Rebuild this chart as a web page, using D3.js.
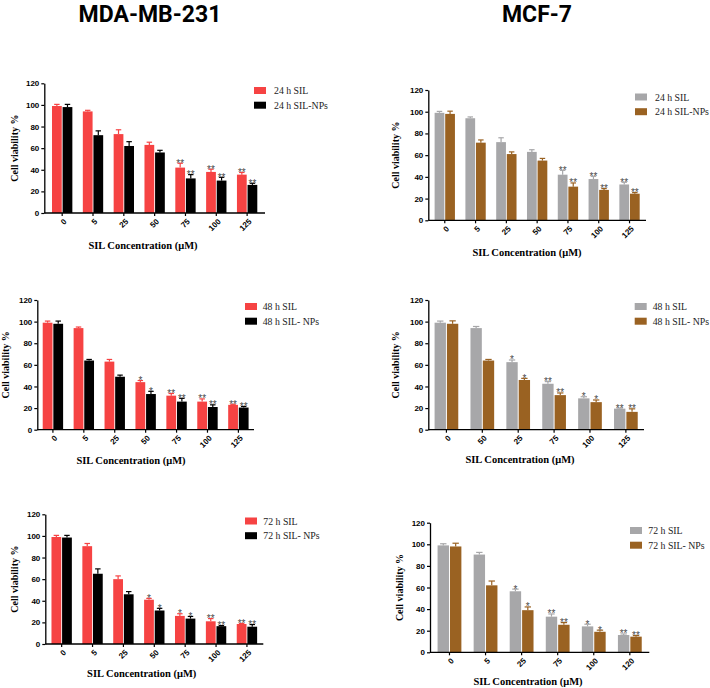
<!DOCTYPE html>
<html>
<head>
<meta charset="utf-8">
<script src="https://cdn.jsdelivr.net/npm/d3@7/dist/d3.min.js"></script>
<style>
  html, body { margin: 0; padding: 0; background: #fff; }
  svg { display: block; }
</style>
</head>
<body>
<svg id="chart" width="710" height="688"></svg>
<script>
// ---------------- DATA ----------------
const cellLines = ["MDA-MB-231", "MCF-7"];
const yTicks = [0, 20, 40, 60, 80, 100, 120];

// Panel 1: MDA-MB-231, 24 h
const p1Cats = ["0", "5", "25", "50", "75", "100", "125"];
const p1Series = ["24 h SIL", "24 h SIL-NPs"];
const p1Sil = [99, 94, 73, 63, 42, 38, 35.5];
const p1SilErr = [1.5, 1, 4, 2.5, 4, 2.5, 2];
const p1Np = [98, 72, 62, 56, 32, 30, 26];
const p1NpErr = [2.5, 4, 4, 2, 3.5, 3, 1.5];
const p1SilSig = ["", "", "", "", "**", "**", "**"];
const p1NpSig = ["", "", "", "", "**", "**", "**"];

// Panel 2: MCF-7, 24 h
const p2Cats = ["0", "5", "25", "50", "75", "100", "125"];
const p2Series = ["24 h SIL", "24 h SIL-NPs"];
const p2Sil = [99, 94, 72, 63, 42, 38, 33];
const p2SilErr = [1.3, 1.2, 4, 2, 4, 2.5, 2];
const p2Np = [98, 71.5, 61, 55, 31, 28, 24.5];
const p2NpErr = [2.5, 2.5, 2, 2, 3.4, 1.2, 1];
const p2SilSig = ["", "", "", "", "**", "**", "**"];
const p2NpSig = ["", "", "", "", "**", "**", "**"];

// Panel 3: MDA-MB-231, 48 h
const p3Cats = ["0", "5", "25", "50", "75", "100", "125"];
const p3Series = ["48 h SIL", "48 h SIL- NPs"];
const p3Sil = [99, 94, 63, 44, 31.5, 26, 23];
const p3SilErr = [1.5, 1, 2, 1.5, 2, 2.5, 0.5];
const p3Np = [98, 64, 49, 33, 26, 21, 20.5];
const p3NpErr = [2.5, 1, 1.5, 2.5, 3, 2, 1];
const p3SilSig = ["", "", "", "*", "**", "**", "**"];
const p3NpSig = ["", "", "", "*", "**", "**", "**"];

// Panel 4: MCF-7, 48 h
const p4Cats = ["0", "50", "25", "75", "100", "125"];
const p4Series = ["48 h SIL", "48 h SIL- NPs"];
const p4Sil = [99, 94, 62.5, 42.5, 29, 19.5];
const p4SilErr = [1.5, 1.5, 2, 2, 1.5, 0.5];
const p4Np = [98, 64, 46, 32, 25.5, 16.5];
const p4NpErr = [2.7, 1, 1.5, 2, 2, 2.8];
const p4SilSig = ["", "", "*", "**", "*", "**"];
const p4NpSig = ["", "", "*", "**", "*", "**"];

// Panel 5: MDA-MB-231, 72 h
const p5Cats = ["0", "5", "25", "50", "75", "100", "125"];
const p5Series = ["72 h SIL", "72 h SIL- NPs"];
const p5Sil = [99, 90.5, 60, 41, 26, 21, 18.5];
const p5SilErr = [1.5, 2.5, 3, 1.2, 2, 2.5, 0.5];
const p5Np = [98.5, 65, 46, 31, 23.5, 16.5, 16];
const p5NpErr = [2, 4.5, 2.5, 2, 2, 0.5, 2];
const p5SilSig = ["", "", "", "*", "*", "**", "**"];
const p5NpSig = ["", "", "", "*", "*", "**", "**"];

// Panel 6: MCF-7, 72 h
const p6Cats = ["0", "5", "25", "75", "100", "120"];
const p6Series = ["72 h SIL", "72 h SIL- NPs"];
const p6Sil = [99, 90.5, 56.5, 33, 24, 16];
const p6SilErr = [1.5, 2, 2, 2.5, 2, 1];
const p6Np = [98, 62, 39, 25.5, 19, 14.5];
const p6NpErr = [3, 4, 3, 2, 1.5, 1];
const p6SilSig = ["", "", "*", "**", "*", "**"];
const p6NpSig = ["", "", "*", "**", "*", "**"];

// ---------------- LAYOUT / STYLE ----------------
const red = "#f64343", black = "#000000", grey = "#a7a7a9", brown = "#9a6222";
const sansBold = "'Liberation Sans', Arimo, Arial, sans-serif";
const serif = "'Liberation Serif', 'Times New Roman', Times, serif";

const panels = [
  { cats: p1Cats, series: p1Series, a: p1Sil, ae: p1SilErr, as: p1SilSig, b: p1Np, be: p1NpErr, bs: p1NpSig,
    colors: [red, black], x0: 44.3, x1: 265, yTop: 83.3, yBot: 213, pad: 0.08,
    leg: [254, 87], legText: 274, xTitle: [143, 249], yTitleX: 14 },
  { cats: p2Cats, series: p2Series, a: p2Sil, ae: p2SilErr, as: p2SilSig, b: p2Np, be: p2NpErr, bs: p2NpSig,
    colors: [grey, brown], x0: 428.3, x1: 646, yTop: 90, yBot: 220.3, pad: 0.035,
    leg: [635, 93.5], legText: 655, xTitle: [527, 256], yTitleX: 395 },
  { cats: p3Cats, series: p3Series, a: p3Sil, ae: p3SilErr, as: p3SilSig, b: p3Np, be: p3NpErr, bs: p3NpSig,
    colors: [red, black], x0: 37.3, x1: 254, yTop: 300, yBot: 429.7, pad: 0.005,
    leg: [245, 303], legText: 262.7, xTitle: [131, 464], yTitleX: 5 },
  { cats: p4Cats, series: p4Series, a: p4Sil, ae: p4SilErr, as: p4SilSig, b: p4Np, be: p4NpErr, bs: p4NpSig,
    colors: [grey, brown], x0: 428.3, x1: 644, yTop: 300, yBot: 429.7, pad: 0.005,
    leg: [634.7, 303], legText: 652.7, xTitle: [520, 463], yTitleX: 395 },
  { cats: p5Cats, series: p5Series, a: p5Sil, ae: p5SilErr, as: p5SilSig, b: p5Np, be: p5NpErr, bs: p5NpSig,
    colors: [red, black], x0: 45.3, x1: 263.3, yTop: 514.3, yBot: 644, pad: 0.03,
    leg: [245, 517.5], legText: 263.3, xTitle: [141.7, 677], yTitleX: 14 },
  { cats: p6Cats, series: p6Series, a: p6Sil, ae: p6SilErr, as: p6SilSig, b: p6Np, be: p6NpErr, bs: p6NpSig,
    colors: [grey, brown], x0: 430, x1: 649.3, yTop: 522.7, yBot: 652.3, pad: 0.04,
    leg: [630, 527], legText: 648.3, xTitle: [528, 685], yTitleX: 399 }
];

const svg = d3.select("#chart");

// Column titles
svg.selectAll("text.colTitle").data(cellLines).join("text")
  .attr("class", "colTitle")
  .attr("x", (d, i) => i === 0 ? 150 : 537)
  .attr("y", 21.5)
  .attr("text-anchor", "middle")
  .attr("font-family", "Roboto, 'Open Sans', sans-serif")
  .attr("font-weight", 700)
  .attr("font-size", 23)
  .attr("fill", "#000")
  .text(d => d);

panels.forEach(p => {
  const g = svg.append("g");
  const x = d3.scaleBand().domain(p.cats).range([p.x0, p.x1]).paddingInner(0).paddingOuter(p.pad);
  const y = d3.scaleLinear().domain([0, 120]).range([p.yBot, p.yTop]);
  const inner = d3.scaleBand().domain([0, 1]).range([0, x.bandwidth() * 0.66]).paddingInner(0.08);
  const off = (x.bandwidth() - x.bandwidth() * 0.66) / 2;

  const rows = [];
  p.cats.forEach((c, i) => {
    rows.push({ c, s: 0, v: p.a[i], e: p.ae[i], sig: p.as[i] });
    rows.push({ c, s: 1, v: p.b[i], e: p.be[i], sig: p.bs[i] });
  });
  const bx = d => x(d.c) + off + inner(d.s);
  const bw = inner.bandwidth();

  // error bars (upper only with cap)
  g.selectAll("line.err").data(rows).join("line")
    .attr("x1", d => bx(d) + bw / 2).attr("x2", d => bx(d) + bw / 2)
    .attr("y1", d => y(d.v)).attr("y2", d => y(d.v + d.e))
    .attr("stroke", d => p.colors[d.s]).attr("stroke-width", 1.2);
  g.selectAll("line.cap").data(rows).join("line")
    .attr("x1", d => bx(d) + bw * 0.22).attr("x2", d => bx(d) + bw * 0.78)
    .attr("y1", d => y(d.v + d.e)).attr("y2", d => y(d.v + d.e))
    .attr("stroke", d => p.colors[d.s]).attr("stroke-width", 1.2);

  // bars
  g.selectAll("rect.bar").data(rows).join("rect")
    .attr("x", d => bx(d)).attr("width", bw)
    .attr("y", d => y(d.v)).attr("height", d => y(0) - y(d.v))
    .attr("fill", d => p.colors[d.s]);

  // significance marks
  g.selectAll("text.sig").data(rows.filter(d => d.sig)).join("text")
    .attr("x", d => bx(d) + bw / 2)
    .attr("y", d => y(d.v + d.e) + 3.5)
    .attr("text-anchor", "middle")
    .attr("font-family", sansBold)
    .attr("font-size", 10)
    .attr("fill", "#4a4a4a")
    .text(d => d.sig);

  // y axis
  const ya = g.append("g").attr("transform", `translate(${p.x0},0)`)
    .call(d3.axisLeft(y).tickValues(yTicks).tickSize(3).tickPadding(2).tickSizeOuter(0));
  ya.select(".domain").attr("stroke-width", 1.3);
  ya.selectAll(".tick line").attr("stroke-width", 1.2);
  ya.selectAll(".tick text").attr("font-family", sansBold)
    .attr("font-weight", 700).attr("font-size", 8).attr("fill", "#000");

  // x axis (ticks only, labels drawn rotated below)
  const xa = g.append("g").attr("transform", `translate(0,${p.yBot})`)
    .call(d3.axisBottom(x).tickSize(3).tickSizeOuter(0).tickFormat(""));
  xa.select(".domain").attr("stroke-width", 1.3).attr("d", `M${p.x0},0H${p.x1}`);
  xa.selectAll(".tick line").attr("stroke-width", 1.2);

  g.selectAll("text.xlab").data(p.cats).join("text")
    .attr("class", "xlab")
    .attr("transform", d => `translate(${x(d) + x.bandwidth() / 2 + 3},${p.yBot + 7}) rotate(-45)`)
    .attr("text-anchor", "end")
    .attr("dy", "0.35em")
    .attr("font-family", sansBold)
    .attr("font-weight", 700).attr("font-size", 8).attr("fill", "#000")
    .text(d => d);

  // axis titles
  g.append("text")
    .attr("x", p.xTitle[0]).attr("y", p.xTitle[1])
    .attr("text-anchor", "middle")
    .attr("font-family", serif)
    .attr("font-weight", 700).attr("font-size", 10.5).attr("fill", "#000")
    .text("SIL Concentration (μM)");
  g.append("text")
    .attr("transform", `translate(${p.yTitleX + 4},${(p.yTop + p.yBot) / 2}) rotate(-90)`)
    .attr("text-anchor", "middle")
    .attr("font-family", serif)
    .attr("font-weight", 700).attr("font-size", 10).attr("fill", "#000")
    .text("Cell viability  %");

  // legend
  const lg = g.selectAll("g.leg").data(p.series).join("g")
    .attr("transform", (d, i) => `translate(0,${i * 14.7})`);
  lg.append("rect")
    .attr("x", p.leg[0]).attr("y", p.leg[1]).attr("width", 12).attr("height", 7)
    .attr("fill", (d, i) => p.colors[i]);
  lg.append("text")
    .attr("x", p.legText).attr("y", p.leg[1] + 7)
    .attr("font-family", serif)
    .attr("font-size", 9.8).attr("fill", "#222")
    .text(d => d);
});
</script>
</body>
</html>
